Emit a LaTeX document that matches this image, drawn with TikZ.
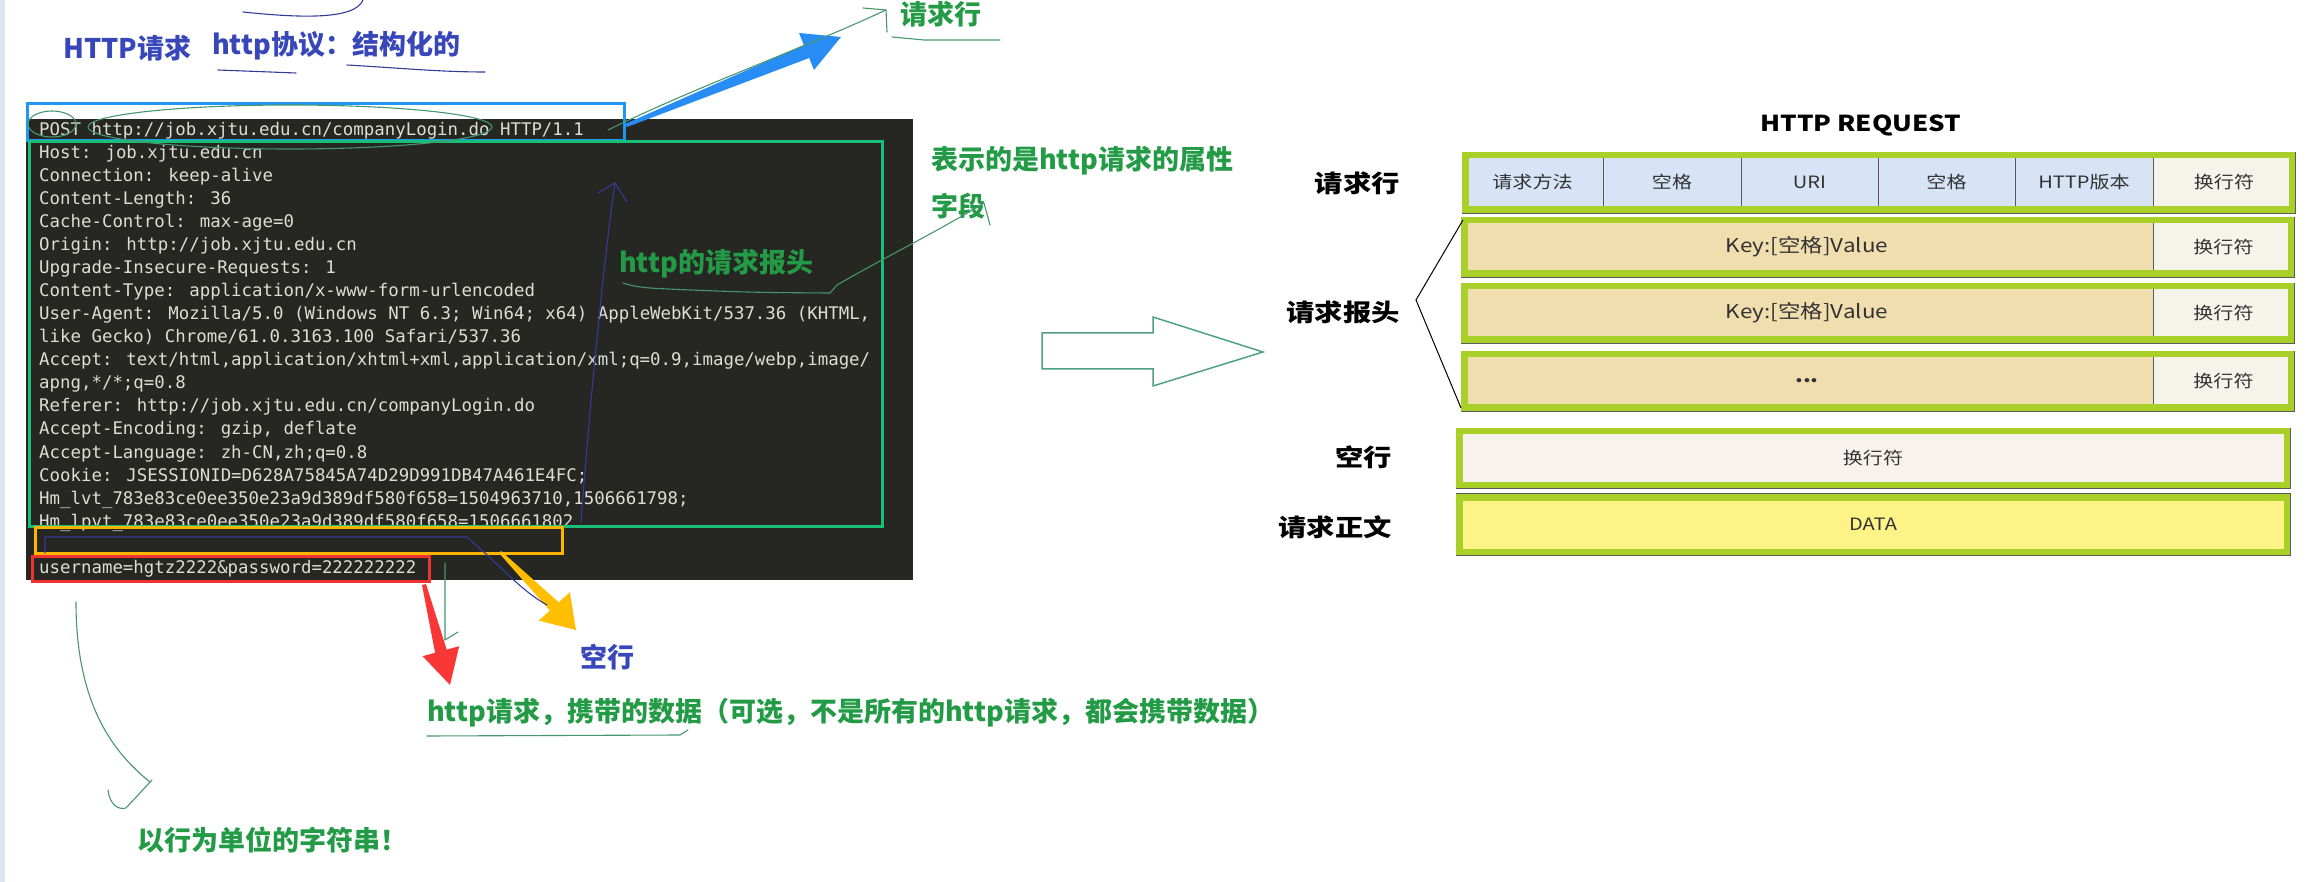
\documentclass[tikz,border=0pt]{standalone}
\usepackage{fontspec}
\usepackage{graphicx}
\newfontfamily\cjk{Noto Sans CJK SC}
\newfontfamily\mono{DejaVu Sans Mono}
\newcommand{\hstretch}[1]{\scalebox{1.18}[1]{#1}}

\definecolor{consolebg}{RGB}{38,38,34}
\definecolor{consoletext}{RGB}{222,222,216}
\definecolor{boxblue}{RGB}{33,150,243}
\definecolor{boxgreen}{RGB}{25,190,120}
\definecolor{boxorange}{RGB}{255,180,0}
\definecolor{boxred}{RGB}{240,50,50}
\definecolor{arrowblue}{RGB}{40,140,245}
\definecolor{arrowred}{RGB}{250,55,55}
\definecolor{arrowyellow}{RGB}{255,190,0}
\definecolor{notegreen}{RGB}{35,155,70}
\definecolor{noteblue}{RGB}{55,70,185}
\definecolor{sketchgreen}{RGB}{70,150,110}
\definecolor{sketchnavy}{RGB}{50,60,150}
\definecolor{rowgreen}{RGB}{168,208,40}
\definecolor{cellblue}{RGB}{214,228,245}
\definecolor{cellcream}{RGB}{246,243,234}
\definecolor{celltan}{RGB}{240,222,175}
\definecolor{cellyellow}{RGB}{253,243,135}
\definecolor{blankcream}{RGB}{247,243,236}
\definecolor{divgray}{RGB}{90,90,90}
\definecolor{celltext}{RGB}{50,50,50}
\definecolor{arrowteal}{RGB}{80,160,130}
\definecolor{edgeblue}{RGB}{222,228,242}

\tikzset{
  consoleline/.style={anchor=base west,inner sep=0,text=consoletext,font=\mono\fontsize{17.4}{20}\selectfont},
  note/.style={inner sep=0,font=\cjk\bfseries\fontsize{27}{30}\selectfont},
  cell/.style={draw=divgray,line width=0.8,inner sep=0,minimum height=60,text=celltext,font=\cjk\fontsize{17}{20}\selectfont},
  rowframe/.style={draw=rowgreen,line width=6.5},
  sidelabel/.style={anchor=east,inner sep=0,font=\cjk\bfseries\fontsize{24}{28}\selectfont},
  sketch/.style={line width=1.1,line cap=round,line join=round},
}

\begin{document}
\begin{tikzpicture}[x=1pt,y=-1pt]
  \useasboundingbox (0,0) rectangle (2311,882);
  \fill[edgeblue] (0,0) rectangle (5,882);

  % the raw request
  \fill[consolebg] (26,119) rectangle (913,580);
  \begin{scope}[every node/.style={consoleline}]
    \foreach \txt [count=\i from 0] in {
        {POST http://job.xjtu.edu.cn/companyLogin.do HTTP/1.1},
        {Host: job.xjtu.edu.cn},
        {Connection: keep-alive},
        {Content-Length: 36},
        {Cache-Control: max-age=0},
        {Origin: http://job.xjtu.edu.cn},
        {Upgrade-Insecure-Requests: 1},
        {Content-Type: application/x-www-form-urlencoded},
        {User-Agent: Mozilla/5.0 (Windows NT 6.3; Win64; x64) AppleWebKit/537.36 (KHTML,},
        {like Gecko) Chrome/61.0.3163.100 Safari/537.36},
        {Accept: text/html,application/xhtml+xml,application/xml;q=0.9,image/webp,image/},
        {apng,*/*;q=0.8},
        {Referer: http://job.xjtu.edu.cn/companyLogin.do},
        {Accept-Encoding: gzip, deflate},
        {Accept-Language: zh-CN,zh;q=0.8},
        {Cookie: JSESSIONID=D628A75845A74D29D991DB47A461E4FC;},
        {Hm\_lvt\_783e83ce0ee350e23a9d389df580f658=1504963710,1506661798;},
        {Hm\_lpvt\_783e83ce0ee350e23a9d389df580f658=1506661802}}
      \node (l\i) at (39,{136+23*\i}) {\txt};
    \node (body) at (39,573) {username=hgtz2222\&password=222222222};
  \end{scope}

  \draw[boxblue,line width=3] (27,104) rectangle (624,141);
  \draw[boxgreen,line width=3] (29,142) rectangle (882,526);
  \draw[boxorange,line width=3] (35,527) rectangle (562,553);
  \draw[boxred,line width=3] (32,556) rectangle (429,581);

  % big arrows
  \fill[arrowblue] (625,124) -- (803.8,45) -- (799,33) -- (841,37) -- (814,70) -- (809.2,58) -- (627,127) -- cycle;
  \fill[arrowred] (422,585) -- (435.1,652.8) -- (422.6,656.2) -- (450,685) -- (459.2,646.2) -- (446.7,649.6) -- (426,584) -- cycle;
  \fill[arrowyellow] (501,551) -- (558.7,602.3) -- (569.8,592.2) -- (576,630) -- (538.8,620.6) -- (549.9,610.5) -- (499,553) -- cycle;

  % notes
  \begin{scope}[every node/.style={note}]
    \node[text=noteblue,anchor=west] (httpreq) at (63,48) {HTTP请求};
    \node[text=noteblue,anchor=west] (proto) at (212,46) {http协议：结构化的};
    \node[text=notegreen] (linenote) at (941,14) {请求行};
    \node[text=notegreen,anchor=west] (attrnote) at (931,161) {表示的是http请求的属性};
    \node[text=notegreen,anchor=west] (fieldnote) at (931,206) {字段};
    \node[text=notegreen,anchor=west] (headnote) at (619,264) {http的请求报头};
    \node[text=noteblue] (blanknote) at (607,657) {空行};
    \node[text=notegreen,anchor=west] (datanote) at (427,713) {http请求，携带的数据（可选，不是所有的http请求，都会携带数据）};
    \node[text=notegreen,anchor=west] (linestr) at (137,840) {以行为单位的字符串！};
  \end{scope}

  % pen strokes
  \draw[sketch,sketchnavy] (218,70) -- (296,73);
  \draw[sketch,sketchnavy] (347,65) .. controls (400,68) and (440,72) .. (485,72);
  \draw[sketch,sketchnavy] (243,12) .. controls (300,18) and (355,20) .. (363,0);
  \draw[sketch,sketchgreen] (52,124) ellipse [x radius=24,y radius=13];
  \draw[sketch,sketchgreen] (290,127) ellipse [x radius=202,y radius=22];
  \draw[sketch,sketchgreen] (608,130) .. controls (700,85) and (800,50) .. (886,10);
  \draw[sketch,sketchgreen] (863,8) -- (886,10) -- (887,32);
  \draw[sketch,sketchgreen] (892,37) -- (924,40) -- (1000,40);
  \draw[sketch,sketchgreen] plot[smooth] coordinates {(623,283) (650,288) (747,292) (830,293)}
    -- (837,285) .. controls (880,260) and (940,230) .. (984,203) -- (990,225);
  \draw[sketch,sketchnavy] (581,522) .. controls (590,400) and (605,250) .. (615,183);
  \draw[sketch,sketchnavy] (598,193) -- (615,183) -- (627,202);
  \draw[sketch,sketchnavy] (45,553) -- (45,537) -- (467,537) .. controls (500,565) and (520,590) .. (547,605);
  \draw[sketch,sketchgreen] (445,563) -- (445,640) -- (458,632);
  \draw[sketch,sketchgreen] (427,736) -- (680,735) -- (688,730);
  \draw[sketch,sketchgreen] (76,602) .. controls (76,700) and (110,750) .. (150,782);
  \draw[sketch,sketchgreen] (108,790) .. controls (110,805) and (118,810) .. (126,808) -- (152,780);

  % hollow arrow
  \draw[arrowteal,line width=1.5,line join=miter] (1042,333) -- (1153,333) -- (1153,317) -- (1263,352) -- (1153,386) -- (1153,369) -- (1042,369) -- cycle;

  % HTTP REQUEST table
  \node[inner sep=0,font=\cjk\bfseries\fontsize{22}{26}\selectfont] (title) at (1861,125) {\hstretch{HTTP REQUEST}};

  \begin{scope}[every node/.style={cell,minimum height=61}]
    \node[fill=cellblue,minimum width=141] (method) at (1532.5,182.5) {\hstretch{请求方法}};
    \node[fill=cellblue,minimum width=138] (space1) at (1672,182.5) {\hstretch{空格}};
    \node[fill=cellblue,minimum width=137] (uri) at (1809.5,182.5) {\hstretch{URI}};
    \node[fill=cellblue,minimum width=137] (space2) at (1946.5,182.5) {\hstretch{空格}};
    \node[fill=cellblue,minimum width=138] (version) at (2084,182.5) {\hstretch{HTTP版本}};
    \node[fill=cellcream,minimum width=142] (crlf0) at (2224,182.5) {\hstretch{换行符}};
  \end{scope}
  \begin{scope}[every node/.style={cell}]
    \node[fill=celltan,minimum width=692,font=\cjk\fontsize{19}{22}\selectfont] (kv1) at (1807,247) {\hstretch{Key:[空格]Value}};
    \node[fill=cellcream,minimum width=141] (crlf1) at (2223.5,247) {\hstretch{换行符}};
    \node[fill=celltan,minimum width=692,font=\cjk\fontsize{19}{22}\selectfont] (kv2) at (1807,313) {\hstretch{Key:[空格]Value}};
    \node[fill=cellcream,minimum width=141] (crlf2) at (2223.5,313) {\hstretch{换行符}};
    \node[fill=celltan,minimum width=692,font=\cjk\bfseries\fontsize{19}{22}\selectfont] (kvmore) at (1807,381) {\hstretch{...}};
    \node[fill=cellcream,minimum width=141] (crlf3) at (2223.5,381) {\hstretch{换行符}};
    \node[fill=blankcream,minimum width=834] (blank) at (1873,458) {\hstretch{换行符}};
    \node[fill=cellyellow,minimum width=834,minimum height=62] (data) at (1873,524.5) {\hstretch{DATA}};
  \end{scope}

  \draw[rowframe] (1465.25,155.25) rectangle (2291.75,209.75);
  \draw[rowframe] (1464.25,220.25) rectangle (2290.75,273.75);
  \draw[rowframe] (1464.25,286.25) rectangle (2290.75,339.75);
  \draw[rowframe] (1464.25,354.25) rectangle (2290.75,407.75);
  \draw[rowframe] (1459.25,431.25) rectangle (2286.75,484.75);
  \draw[rowframe] (1459.25,497.25) rectangle (2286.75,551.75);

  \draw[line width=1] (1463,220) -- (1416,300) -- (1461,408);

  \begin{scope}[every node/.style={sidelabel}]
    \node (lblline) at (1400,183) {\hstretch{请求行}};
    \node (lblhead) at (1400,312) {\hstretch{请求报头}};
    \node (lblblank) at (1392,457) {\hstretch{空行}};
    \node (lblbody) at (1392,527) {\hstretch{请求正文}};
  \end{scope}
\end{tikzpicture}
\end{document}
